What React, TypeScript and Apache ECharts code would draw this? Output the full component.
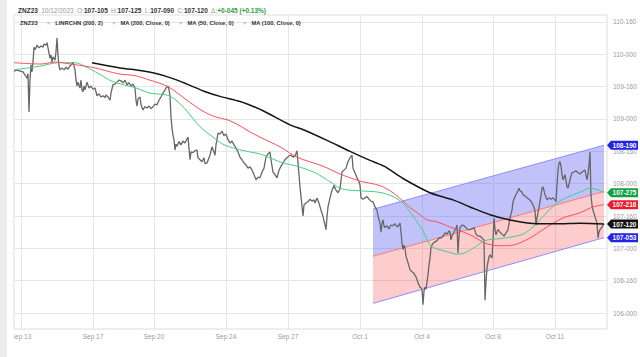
import React, { useEffect, useRef } from 'react';
import * as echarts from 'echarts';

// ---- header texts ----
const symbolName = 'ZNZ23';
const headerDate = '10/12/2023';
const openTxt = '107-105';
const highTxt = '107-125';
const lowTxt = '107-090';
const closeTxt = '107-120';
const changeTxt = '+0-045 (+0.13%)';
const studies = ['LINRCHN (200, 2)', 'MA (200, Close, 0)', 'MA (50, Close, 0)', 'MA (100, Close, 0)'];

// ---- axes ----
const yTicks = [106, 106.5, 107, 107.5, 108, 108.5, 109, 109.5, 110, 110.5];
const dayLabels = ['Sep 13', 'Sep 17', 'Sep 20', 'Sep 24', 'Sep 27', 'Oct 1', 'Oct 4', 'Oct 8', 'Oct 11'];
const dayBars = [7, 79, 140, 212, 274, 346, 408, 479, 541];
const xMin = 0;
const xMax = 593;
const yMin = 105.753;
const yMax = 110.608;

// ---- price (bar index, price) ----
const price: [number, number][] = [
  [0,109.74],[3,109.76],[6,109.74],[9,109.73],[11,109.68],[13,109.63],[14,109.70],[15,109.11],[16,109.60],[17,109.84],[18,109.73],[19,109.88],[20,110.11],[21,110.07],[23,110.14],[25,110.10],[27,110.13],[29,110.11],[30,110.16],[32,110.14],[33,110.18],[34,110.10],[36,109.94],[37,109.99],[38,109.88],[39,109.96],[41,109.91],[42,110.04],[43,110.25],[44,109.99],[45,109.82],[46,109.76],[48,109.79],[50,109.76],[52,109.80],[54,109.77],[56,109.82],[58,109.85],[59,109.88],[61,109.76],[62,109.60],[63,109.51],[64,109.57],[66,109.48],[67,109.60],[68,109.45],[69,109.42],[70,109.51],[71,109.45],[73,109.57],[75,109.48],[77,109.51],[79,109.46],[81,109.48],[83,109.36],[85,109.39],[87,109.34],[89,109.36],[91,109.33],[92,109.37],[94,109.34],[96,109.29],[97,109.40],[99,109.53],[101,109.54],[103,109.57],[105,109.60],[107,109.59],[109,109.56],[111,109.60],[113,109.53],[115,109.56],[117,109.51],[119,109.54],[121,109.48],[122,109.29],[123,109.20],[124,109.31],[126,109.34],[127,109.22],[129,109.14],[131,109.19],[133,109.17],[135,109.20],[137,109.16],[139,109.19],[141,109.23],[143,109.22],[145,109.29],[147,109.34],[149,109.40],[151,109.45],[152,109.48],[154,109.51],[155,109.45],[156,109.36],[157,109.03],[158,108.86],[159,108.75],[160,108.68],[161,108.52],[162,108.61],[163,108.58],[165,108.65],[167,108.60],[169,108.66],[171,108.63],[173,108.69],[174,108.72],[175,108.55],[176,108.37],[177,108.49],[179,108.48],[181,108.51],[183,108.52],[184,108.40],[186,108.37],[188,108.34],[190,108.40],[191,108.31],[193,108.32],[195,108.40],[196,108.44],[198,108.57],[200,108.49],[201,108.44],[202,108.60],[204,108.78],[206,108.77],[208,108.81],[210,108.74],[212,108.77],[214,108.68],[216,108.63],[218,108.66],[220,108.60],[222,108.55],[224,108.49],[226,108.41],[228,108.37],[230,108.32],[232,108.29],[234,108.24],[236,108.26],[238,108.21],[240,108.14],[242,108.06],[244,108.10],[246,108.09],[248,108.18],[250,108.24],[252,108.41],[254,108.46],[256,108.49],[257,108.37],[259,108.18],[261,108.14],[263,108.09],[265,108.21],[267,108.27],[269,108.32],[271,108.37],[273,108.40],[275,108.43],[277,108.44],[279,108.41],[281,108.43],[283,108.51],[284,108.32],[285,108.14],[286,107.95],[287,107.80],[289,107.50],[290,107.67],[292,107.70],[294,107.72],[296,107.76],[298,107.73],[300,107.75],[301,107.70],[303,107.78],[305,107.70],[307,107.59],[309,107.49],[311,107.36],[312,107.29],[313,107.49],[314,107.64],[316,107.78],[318,107.90],[320,107.97],[322,107.90],[324,107.86],[326,107.92],[328,108.18],[330,108.21],[332,108.24],[334,108.34],[336,108.40],[338,108.44],[339,108.24],[341,108.17],[343,108.09],[345,108.03],[346,107.98],[347,107.78],[349,107.76],[351,107.78],[353,107.80],[355,107.76],[357,107.73],[359,107.72],[361,107.64],[363,107.59],[364,107.50],[366,107.39],[367,107.25],[368,107.38],[369,107.44],[370,107.35],[371,107.32],[373,107.35],[375,107.30],[377,107.36],[379,107.35],[381,107.38],[383,107.33],[385,107.36],[386,107.39],[387,107.25],[388,107.08],[389,106.98],[390,107.05],[391,107.01],[392,106.88],[394,106.78],[396,106.67],[398,106.64],[400,106.61],[402,106.56],[404,106.47],[406,106.40],[407,106.39],[408,106.36],[409,106.13],[410,106.34],[411,106.40],[412,106.37],[413,106.48],[414,106.59],[415,106.74],[416,106.85],[417,107.01],[418,107.05],[419,107.08],[421,107.10],[423,107.12],[425,107.16],[427,107.16],[429,107.19],[431,107.24],[433,107.22],[435,107.27],[436,107.25],[437,107.13],[438,107.19],[440,107.25],[442,107.32],[443,107.36],[444,106.93],[445,107.19],[446,107.32],[448,107.36],[450,107.35],[452,107.32],[454,107.29],[456,107.29],[458,107.30],[460,107.32],[462,107.22],[464,107.19],[466,107.19],[468,107.16],[470,107.13],[471,106.20],[472,106.48],[473,106.70],[474,106.79],[475,106.87],[476,106.90],[478,106.85],[479,107.13],[480,107.47],[481,107.29],[482,107.21],[484,107.29],[486,107.25],[488,107.22],[490,107.19],[492,107.24],[494,107.29],[496,107.47],[498,107.59],[499,107.72],[501,107.80],[503,107.86],[505,107.93],[506,107.89],[508,107.87],[509,107.83],[511,107.81],[513,107.78],[515,107.76],[517,107.73],[519,107.67],[521,107.59],[522,107.36],[523,107.47],[524,107.55],[526,107.72],[528,107.93],[529,107.95],[531,107.83],[533,107.75],[535,107.78],[537,107.76],[539,107.78],[541,107.75],[542,107.72],[543,107.98],[544,108.21],[545,108.32],[546,108.34],[547,108.27],[548,108.14],[549,108.06],[551,108.14],[553,107.95],[554,107.93],[556,108.06],[558,108.17],[560,108.18],[562,108.20],[564,108.17],[566,108.15],[568,108.18],[570,108.20],[571,108.21],[573,108.06],[574,108.15],[575,108.29],[576,108.49],[577,107.81],[578,107.67],[579,107.59],[581,107.49],[583,107.39],[584,107.16],[585,107.25],[586,107.29],[588,107.33],[590,107.375]
];

// ---- moving averages ----
const ma200: [number, number][] = [
  [78,109.87],[106,109.79],[126,109.75],[140,109.71],[156,109.64],[173,109.54],[190,109.43],[206,109.35],[226,109.27],[240,109.19],[250,109.12],[276,108.91],[290,108.83],[313,108.67],[336,108.50],[356,108.36],[370,108.27],[389,108.08],[416,107.86],[439,107.75],[456,107.64],[476,107.52],[496,107.44],[523,107.38],[543,107.38],[566,107.39],[590,107.375]
];
const ma100: [number, number][] = [
  [0,109.87],[27,109.85],[41,109.88],[61,109.84],[81,109.79],[104,109.70],[121,109.67],[136,109.60],[154,109.50],[173,109.29],[189,109.12],[202,109.03],[213,108.99],[223,108.92],[236,108.80],[246,108.72],[266,108.57],[283,108.41],[309,108.27],[326,108.15],[346,108.04],[366,107.97],[379,107.86],[389,107.73],[396,107.63],[406,107.52],[413,107.44],[423,107.41],[436,107.33],[456,107.21],[473,107.07],[486,107.04],[499,107.05],[516,107.16],[533,107.33],[549,107.47],[566,107.55],[579,107.64],[590,107.675]
];
const ma50: [number, number][] = [
  [0,109.76],[14,109.79],[27,109.82],[44,109.87],[61,109.87],[74,109.79],[87,109.68],[97,109.59],[107,109.54],[122,109.48],[136,109.40],[153,109.37],[163,109.28],[173,109.12],[186,108.88],[199,108.72],[209,108.61],[222,108.54],[236,108.49],[246,108.46],[269,108.32],[283,108.27],[301,108.17],[316,108.03],[326,107.93],[336,107.90],[346,107.89],[366,107.865],[379,107.80],[389,107.70],[399,107.50],[409,107.27],[416,107.05],[423,106.99],[433,106.95],[443,106.91],[451,106.93],[461,107.02],[471,107.12],[486,107.15],[499,107.18],[509,107.22],[519,107.33],[526,107.44],[533,107.56],[543,107.70],[553,107.79],[566,107.87],[576,107.93],[583,107.91],[590,107.859]
];

// ---- linear regression channel (endpoints) ----
const chanBars = [359, 590];
const chanUpper = [107.605, 108.594];
const chanMid = [106.878, 107.88];
const chanLower = [106.15, 107.166];

// ---- last-value tags ----
const tagValues = [108.59375, 107.859375, 107.675, 107.375, 107.1656];
const tagColors = ['#2323ee', '#14a044', '#ee1c2a', '#111111', '#2323ee'];

const FONT = 'Liberation Sans, Arial, sans-serif';

const toTicks = (v: number) => {
  const w = Math.floor(v + 1e-9);
  const t = Math.round((v - w) * 320);
  return `${w}-${String(t).padStart(3, '0')}`;
};

const lineSeries = (name: string, data: [number, number][], color: string, width: number, z: number, smooth = 0) => ({
  name,
  type: 'line',
  data,
  symbol: 'none',
  silent: true,
  smooth,
  z,
  lineStyle: { color, width },
});

export default function App() {
  const ref = useRef<HTMLDivElement>(null);
  useEffect(() => {
    const chart = echarts.init(ref.current!, null, { renderer: 'svg' });

    const gridLineData: any[] = [
      ...yTicks.map((v) => ({
        yAxis: v,
        label: { show: true, position: 'end', distance: 6, formatter: toTicks(v), color: '#9a9a9a', fontSize: 6.5, fontFamily: FONT },
      })),
      ...dayBars.map((b, i) => ({
        xAxis: b,
        label: { show: true, position: 'start', distance: 4, formatter: dayLabels[i], color: '#9a9a9a', fontSize: 6.5, fontFamily: FONT },
      })),
    ];

    const option: any = {
      animation: false,
      backgroundColor: '#ffffff',
      textStyle: { fontFamily: FONT },
      grid: { left: 14, right: 33, top: 15, bottom: 28, show: true, borderColor: '#dedede', borderWidth: 1, backgroundColor: '#fff' },
      xAxis: { type: 'value', min: xMin, max: xMax, show: false },
      yAxis: { type: 'value', min: yMin, max: yMax, show: false },
      series: [
        {
          name: 'grid',
          type: 'line',
          data: [],
          silent: true,
          clip: false,
          markLine: {
            silent: true,
            z: 1,
            symbol: ['none', 'none'],
            lineStyle: { color: '#e6e6e6', width: 1, type: 'solid' },
            emphasis: { disabled: true },
            data: gridLineData,
          },
        },
        {
          name: 'channelFill',
          type: 'custom',
          silent: true,
          z: 2,
          data: [[chanBars[0], chanMid[0]]],
          renderItem: (_params: any, api: any) => {
            const u0 = api.coord([chanBars[0], chanUpper[0]]);
            const u1 = api.coord([chanBars[1], chanUpper[1]]);
            const m0 = api.coord([chanBars[0], chanMid[0]]);
            const m1 = api.coord([chanBars[1], chanMid[1]]);
            const l0 = api.coord([chanBars[0], chanLower[0]]);
            const l1 = api.coord([chanBars[1], chanLower[1]]);
            return {
              type: 'group',
              children: [
                { type: 'polygon', shape: { points: [u0, u1, m1, m0] }, style: { fill: 'rgba(95,95,245,0.38)' } },
                { type: 'polygon', shape: { points: [m0, m1, l1, l0] }, style: { fill: 'rgba(250,90,90,0.30)' } },
              ],
            };
          },
        },
        lineSeries('chLower', chanBars.map((b, i) => [b, chanLower[i]] as [number, number]), '#8c8cff', 1, 2),
        lineSeries('chMid', chanBars.map((b, i) => [b, chanMid[i]] as [number, number]), '#ff7878', 1, 2),
        lineSeries('chUpper', chanBars.map((b, i) => [b, chanUpper[i]] as [number, number]), '#8c8cff', 1, 2),
        lineSeries('price', price, '#666666', 1.3, 3),
        lineSeries('MA50', ma50, '#45cf80', 1, 4, 0.3),
        lineSeries('MA100', ma100, '#ff4d5e', 1, 4, 0.3),
        lineSeries('MA200', ma200, '#151515', 1.5, 4, 0.3),
        {
          name: 'tags',
          type: 'line',
          data: [],
          silent: true,
          clip: false,
          markPoint: {
            z: 20,
            silent: true,
            symbol: 'path://M0,4.5L4,0L31,0L31,9L4,9Z',
            symbolSize: [31, 9],
            symbolKeepAspect: false,
            symbolOffset: [15.5, 0],
            data: tagValues.map((v, i) => ({
              coord: [xMax, v],
              itemStyle: { color: tagColors[i] },
              label: {
                show: true,
                position: 'inside',
                offset: [2, 0],
                formatter: toTicks(v),
                color: '#ffffff',
                fontSize: 6.5,
                fontWeight: 'bold',
                fontFamily: FONT,
              },
            })),
          },
        },
      ],
      graphic: [
        { type: 'rect', left: 0, top: 0, shape: { width: 7, height: 357 }, style: { fill: '#ececec' }, z: 50, silent: true },
        { type: 'rect', left: 7, top: 331, shape: { width: 7, height: 20 }, style: { fill: '#ffffff' }, z: 50, silent: true },
        {
          type: 'text',
          left: 18,
          top: 4,
          z: 60,
          silent: true,
          style: {
            text: `{b|${symbolName}} {g|${headerDate}} {g|O:}{b|${openTxt}} {g|H:}{b|${highTxt}} {g|L:}{b|${lowTxt}} {g|C:}{b|${closeTxt}} {g|Δ:}{gr|${changeTxt}}`,
            rich: {
              b: { fontSize: 6.5, fontWeight: 'bold', fill: '#333', fontFamily: FONT },
              g: { fontSize: 6.5, fill: '#999', fontFamily: FONT },
              gr: { fontSize: 6.5, fontWeight: 'bold', fill: '#2a9d3a', fontFamily: FONT },
            },
          },
        },
        {
          type: 'text',
          left: 20,
          top: 20,
          z: 60,
          silent: true,
          style: {
            text: `{b|${symbolName}}${studies.map((s) => `{x|×}{b|${s}}`).join('')}`,
            rich: {
              b: { fontSize: 5.8, fontWeight: 'bold', fill: '#333', fontFamily: FONT },
              x: { fontSize: 6, fill: '#aaa', fontFamily: FONT, padding: [0, 5, 0, 9] },
            },
          },
        },
      ],
    };

    chart.setOption(option);
    return () => chart.dispose();
  }, []);
  return (
    <div
      ref={ref}
      style={{ position: 'absolute', left: 0, top: 0, width: 640, height: 357, background: '#fff' }}
    />
  );
}
